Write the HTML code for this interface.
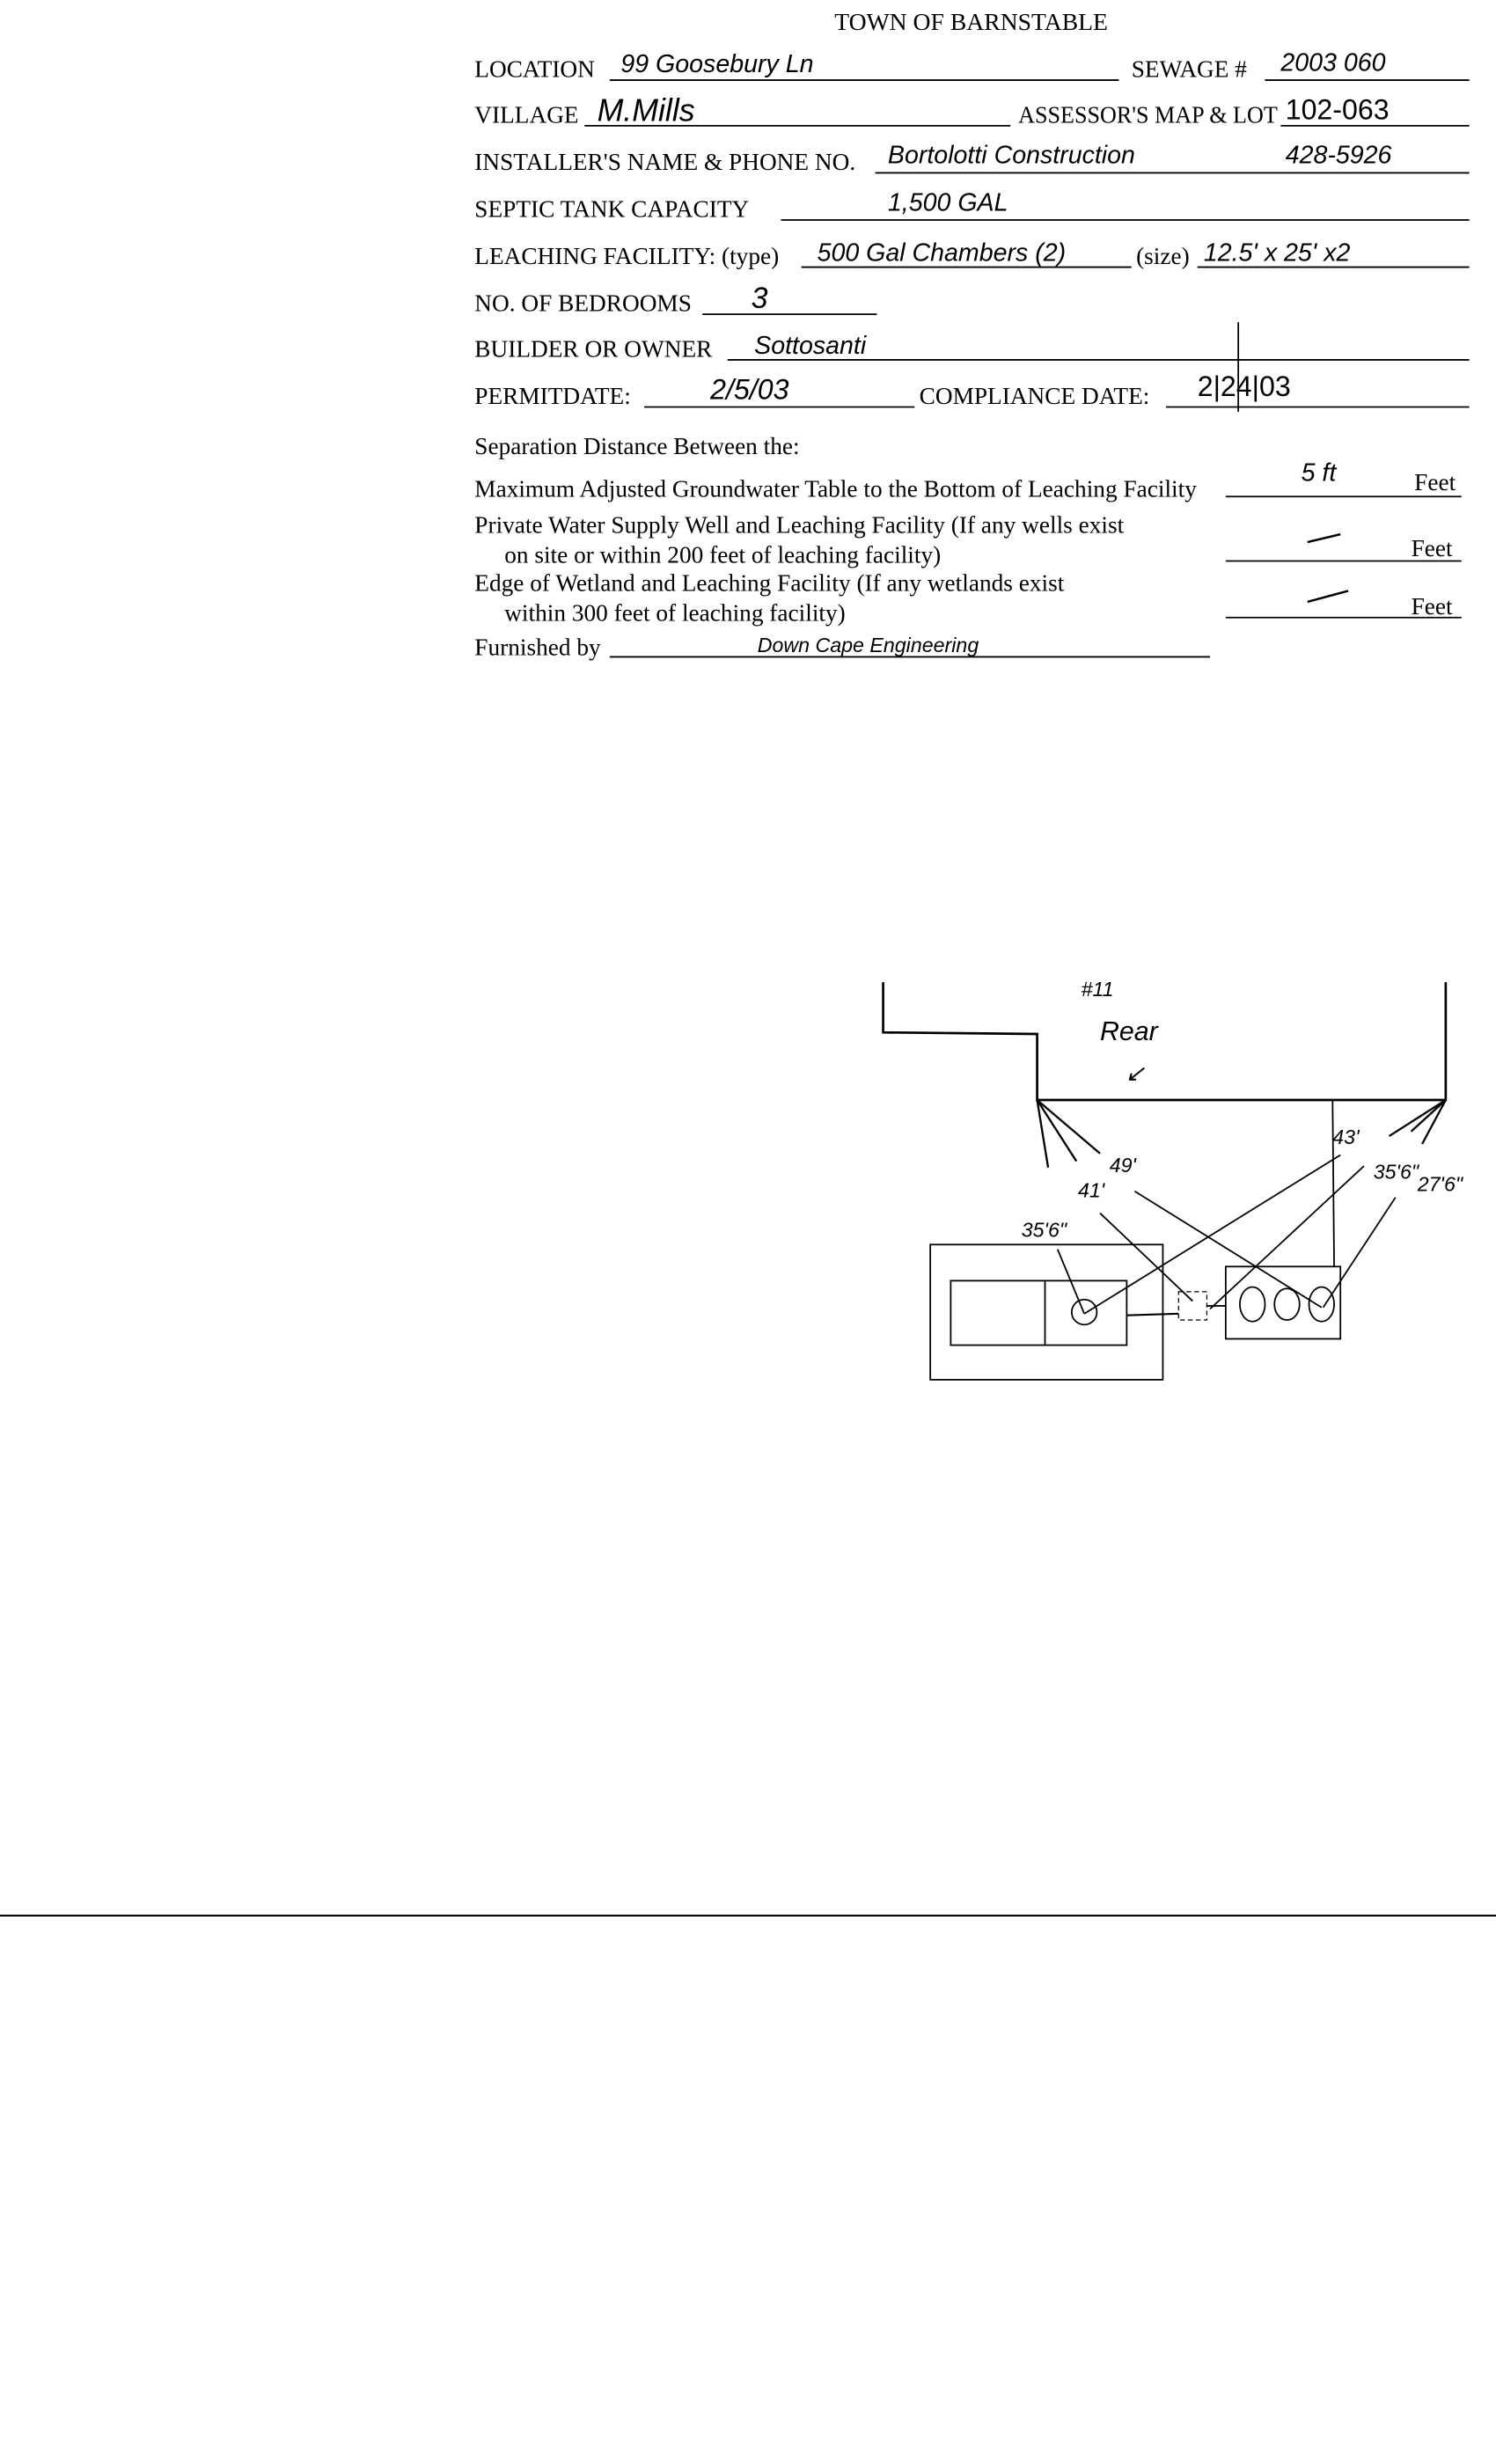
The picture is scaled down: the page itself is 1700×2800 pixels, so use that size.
<!DOCTYPE html>
<html><head><meta charset="utf-8"><style>
html,body{margin:0;padding:0;background:#fff;}
svg{display:block;}
.t{font-family:"Liberation Serif",serif;font-size:15.3px;fill:#000;}
.h{font-family:"Liberation Sans",sans-serif;font-style:italic;font-size:16px;fill:#000;}
line,polyline,rect,circle{stroke:#000;fill:none;}
</style></head><body>
<svg width="1700" height="2800" viewBox="0 0 952 1568" xmlns="http://www.w3.org/2000/svg">
<text class="t" x="618" y="19" text-anchor="middle" style="font-size:15.5px">TOWN OF BARNSTABLE</text>

<text class="t" x="302" y="49">LOCATION</text>
<line x1="388" y1="51" x2="712" y2="51" stroke-width="1"/>
<text class="h" x="395" y="46">99 Goosebury Ln</text>
<text class="t" x="720" y="49">SEWAGE #</text>
<line x1="805" y1="51" x2="935" y2="51" stroke-width="1"/>
<text class="h" x="815" y="45">2003 060</text>

<text class="t" x="302" y="78">VILLAGE</text>
<line x1="372" y1="80" x2="643" y2="80" stroke-width="1"/>
<text class="h" x="380" y="77" style="font-size:20px">M.Mills</text>
<text class="t" x="648" y="78" textLength="165" lengthAdjust="spacingAndGlyphs">ASSESSOR'S MAP &amp; LOT</text>
<line x1="815" y1="80" x2="935" y2="80" stroke-width="1"/>
<text class="h" x="818" y="76" style="font-style:normal;font-size:18px">102-063</text>

<text class="t" x="302" y="108">INSTALLER'S NAME &amp; PHONE NO.</text>
<line x1="557" y1="110" x2="935" y2="110" stroke-width="1"/>
<text class="h" x="565" y="104">Bortolotti Construction</text>
<text class="h" x="818" y="104">428-5926</text>

<text class="t" x="302" y="138">SEPTIC TANK CAPACITY</text>
<line x1="497" y1="140" x2="935" y2="140" stroke-width="1"/>
<text class="h" x="565" y="134">1,500 GAL</text>

<text class="t" x="302" y="168">LEACHING FACILITY: (type)</text>
<line x1="510" y1="170" x2="720" y2="170" stroke-width="1"/>
<text class="h" x="520" y="166">500 Gal Chambers (2)</text>
<text class="t" x="723" y="168">(size)</text>
<line x1="762" y1="170" x2="935" y2="170" stroke-width="1"/>
<text class="h" x="766" y="166">12.5' x 25' x2</text>

<text class="t" x="302" y="198">NO. OF BEDROOMS</text>
<line x1="447" y1="200" x2="558" y2="200" stroke-width="1"/>
<text class="h" x="478" y="196" style="font-size:19px">3</text>

<text class="t" x="302" y="227">BUILDER OR OWNER</text>
<line x1="463" y1="229" x2="935" y2="229" stroke-width="1"/>
<text class="h" x="480" y="225">Sottosanti</text>
<line x1="788" y1="205" x2="788" y2="262" stroke-width="1"/>

<text class="t" x="302" y="257">PERMITDATE:</text>
<line x1="410" y1="259" x2="582" y2="259" stroke-width="1"/>
<text class="h" x="452" y="254" style="font-size:18px">2/5/03</text>
<text class="t" x="585" y="257">COMPLIANCE DATE:</text>
<line x1="742" y1="259" x2="935" y2="259" stroke-width="1"/>
<text class="h" x="762" y="252" style="font-style:normal;font-size:18px">2|24|03</text>

<text class="t" x="302" y="289">Separation Distance Between the:</text>
<text class="t" x="302" y="316">Maximum Adjusted Groundwater Table to the Bottom of Leaching Facility</text>
<line x1="780" y1="316" x2="930" y2="316" stroke-width="1"/>
<text class="h" x="828" y="306">5 ft</text>
<text class="t" x="900" y="312">Feet</text>

<text class="t" x="302" y="339">Private Water Supply Well and Leaching Facility  (If any wells exist</text>
<text class="t" x="321" y="358">on site or within 200 feet of leaching facility)</text>
<line x1="780" y1="357" x2="930" y2="357" stroke-width="1"/>
<line x1="832" y1="345" x2="853" y2="340" stroke-width="1.4"/>
<text class="t" x="898" y="354">Feet</text>

<text class="t" x="302" y="376">Edge of Wetland and Leaching Facility (If any wetlands exist</text>
<text class="t" x="321" y="395">within 300 feet of leaching facility)</text>
<line x1="780" y1="393" x2="930" y2="393" stroke-width="1"/>
<line x1="832" y1="383" x2="858" y2="376" stroke-width="1.4"/>
<text class="t" x="898" y="391">Feet</text>

<text class="t" x="302" y="417">Furnished by</text>
<line x1="388" y1="418" x2="770" y2="418" stroke-width="1"/>
<text class="h" x="482" y="415" style="font-size:13px">Down Cape Engineering</text>

<!-- diagram -->
<polyline points="562,625 562,657 660,658 660,700 920,700 920,625" stroke-width="1.5"/>
<text class="h" x="688" y="634" style="font-size:13px">#11</text>
<text class="h" x="700" y="662" style="font-size:17px">Rear</text>
<text class="h" x="716" y="688" style="font-size:15px">↙</text>
<line x1="848" y1="700" x2="849" y2="806" stroke-width="1"/>

<rect x="592" y="792" width="148" height="86" stroke-width="1"/>
<rect x="605" y="815" width="112" height="41" stroke-width="1"/>
<line x1="665" y1="815" x2="665" y2="856" stroke-width="1"/>
<circle cx="690" cy="835" r="8" stroke-width="1"/>
<line x1="717" y1="837" x2="750" y2="836" stroke-width="1.2"/>
<rect x="750" y="822" width="18" height="18" stroke-width="0.7" stroke-dasharray="3,2"/>
<line x1="768" y1="831" x2="780" y2="831" stroke-width="1"/>
<rect x="780" y="806" width="73" height="46" stroke-width="1"/>
<ellipse cx="797" cy="830" rx="8" ry="11" stroke="#000" fill="none" stroke-width="1"/>
<ellipse cx="819" cy="830" rx="8" ry="10" stroke="#000" fill="none" stroke-width="1"/>
<ellipse cx="841" cy="830" rx="8" ry="11" stroke="#000" fill="none" stroke-width="1"/>

<line x1="660" y1="700" x2="667" y2="743" stroke-width="1.3"/>
<line x1="660" y1="700" x2="685" y2="739" stroke-width="1.3"/>
<line x1="660" y1="700" x2="700" y2="734" stroke-width="1.3"/>
<text class="h" x="650" y="787" style="font-size:13px">35'6"</text>
<text class="h" x="686" y="762" style="font-size:13px">41'</text>
<text class="h" x="706" y="746" style="font-size:13px">49'</text>
<line x1="673" y1="795" x2="690" y2="836" stroke-width="1"/>
<line x1="700" y1="772" x2="759" y2="828" stroke-width="1"/>
<line x1="722" y1="758" x2="841" y2="832" stroke-width="1"/>

<line x1="920" y1="700" x2="884" y2="723" stroke-width="1.3"/>
<line x1="920" y1="700" x2="898" y2="720" stroke-width="1.3"/>
<line x1="920" y1="700" x2="905" y2="728" stroke-width="1.3"/>
<text class="h" x="848" y="728" style="font-size:13px">43'</text>
<text class="h" x="874" y="750" style="font-size:13px">35'6"</text>
<text class="h" x="902" y="758" style="font-size:13px">27'6"</text>
<line x1="853" y1="735" x2="690" y2="836" stroke-width="1"/>
<line x1="868" y1="742" x2="770" y2="833" stroke-width="1"/>
<line x1="888" y1="762" x2="842" y2="832" stroke-width="1"/>

<line x1="0" y1="1219" x2="952" y2="1219" stroke-width="1.2"/>
</svg>
</body></html>
